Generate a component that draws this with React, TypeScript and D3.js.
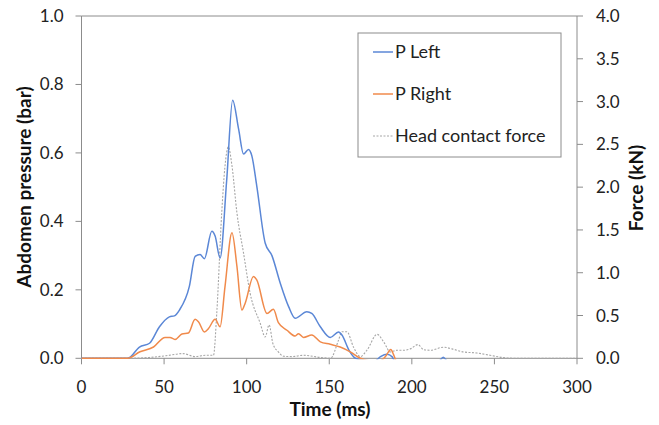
import React from "react";
import * as d3 from "d3";

const leftTime = [0, 28.1, 35.1, 41.2, 47.2, 53.2, 56.2, 59.3, 65.3, 68.8, 71.8, 74.4, 78.9, 80.9, 83.9, 87.9, 91.5, 95.1, 98.1, 101.1, 103.1, 106.1, 111.2, 115.3, 120.3, 125.4, 129.4, 136.4, 139.4, 144.6, 150.6, 155.6, 157.7, 161.9, 165.9, 177, 181, 185, 188, 190, 216, 219, 222, 300];
const leftValues = [0, 0, 0.033, 0.044, 0.092, 0.121, 0.124, 0.141, 0.21, 0.298, 0.303, 0.291, 0.371, 0.357, 0.293, 0.52, 0.754, 0.67, 0.597, 0.61, 0.592, 0.504, 0.337, 0.3, 0.22, 0.151, 0.117, 0.136, 0.131, 0.092, 0.061, 0.077, 0.068, 0.024, 0, -0.01, 0.005, 0.012, 0.005, -0.01, -0.01, 0.003, -0.01, -0.01];

const rightTime = [0, 28.1, 35.4, 43.6, 50.6, 53.6, 56.6, 60.8, 64.7, 68.8, 70.8, 74.4, 76.9, 80.9, 83.9, 86.9, 91.1, 94.1, 97.1, 99.1, 104.1, 106.1, 112.3, 116.2, 119.2, 124.4, 129.4, 131.4, 134.4, 139.4, 144.6, 150.6, 156.6, 162.7, 168.9, 180, 184, 187.3, 189, 191, 300];
const rightValues = [0, 0, 0.019, 0.033, 0.061, 0.061, 0.055, 0.071, 0.074, 0.114, 0.107, 0.077, 0.087, 0.114, 0.092, 0.21, 0.367, 0.269, 0.141, 0.161, 0.239, 0.229, 0.131, 0.143, 0.104, 0.082, 0.065, 0.072, 0.061, 0.068, 0.048, 0.041, 0.033, 0.019, 0, -0.01, 0.005, 0.026, 0.01, -0.01, -0.01];

const forceTime = [0, 28.1, 41.1, 51.2, 61.3, 68.8, 74.9, 79.9, 81.9, 84.9, 86.9, 88.9, 91.1, 94.1, 98.1, 102.1, 108.2, 111.2, 113.6, 115.9, 119.2, 122.3, 127.7, 134.4, 144.6, 150.8, 155.6, 157.7, 160.7, 164.7, 168.8, 172.8, 179, 183, 187, 191, 195.1, 199.1, 203.7, 207.2, 211.2, 219.2, 224.3, 231.3, 239.3, 247.4, 255.4, 262.5, 300];
const forceValues = [0, 0, 0.01, 0.03, 0.055, 0.02, 0.035, 0.035, 0.53, 1.7, 2.25, 2.47, 2.25, 1.7, 1.23, 0.76, 0.41, 0.25, 0.39, 0.17, 0.074, 0.024, 0.02, 0.035, 0.01, 0.0, 0.21, 0.31, 0.31, 0.13, 0.02, 0.094, 0.28, 0.19, 0.074, 0.094, 0.094, 0.11, 0.16, 0.1, 0.094, 0.13, 0.11, 0.074, 0.062, 0.035, 0.008, 0, 0];

const xTicks = [0, 50, 100, 150, 200, 250, 300];
const leftTicks = [0, 0.2, 0.4, 0.6, 0.8, 1.0];
const rightTicks = [0, 0.5, 1.0, 1.5, 2.0, 2.5, 3.0, 3.5, 4.0];
const legendLabels = ["P Left", "P Right", "Head contact force"];

const W = 659, H = 425;
const L = 81.5, R = 577, T = 16, B = 358.3;
const FONT = "Lato, 'Open Sans', sans-serif";
const AXIS = "#8c8c8c";
const BLUE = "#5b87d6";
const ORANGE = "#f08a4b";
const GRAY = "#a6a6a6";

export default function App() {
  const x = d3.scaleLinear().domain([0, 300]).range([L, R]);
  const yL = d3.scaleLinear().domain([0, 1]).range([B, T]);
  const yR = d3.scaleLinear().domain([0, 4]).range([B, T]);

  const mk = (ts: number[], vs: number[], y: d3.ScaleLinear<number, number>) =>
    d3.line<number>().x((_, i) => x(ts[i])).y((v) => y(v)).curve(d3.curveMonotoneX)(vs) || "";

  const pLeft = mk(leftTime, leftValues, yL);
  const pRight = mk(rightTime, rightValues, yL);
  const pForce = mk(forceTime, forceValues, yR);

  const lx = 358, ly = 33, lw = 203, lh = 124;
  const legendY = [52, 94, 136];

  return (
    <svg width={W} height={H} style={{ position: "absolute", left: 0, top: 0, background: "#fff" }} fontFamily={FONT}>
      <defs>
        <clipPath id="plot">
          <rect x={L} y={T} width={R - L} height={B - T + 1} />
        </clipPath>
      </defs>
      <line x1={L} y1={T} x2={R} y2={T} stroke={AXIS} strokeWidth={1} />
      <line x1={L} y1={T} x2={L} y2={B} stroke={AXIS} strokeWidth={1} />
      <line x1={R} y1={T} x2={R} y2={B} stroke={AXIS} strokeWidth={1} />
      <line x1={L} y1={B} x2={R} y2={B} stroke={AXIS} strokeWidth={1} />
      {xTicks.map((t) => (
        <g key={"x" + t}>
          <line x1={x(t)} x2={x(t)} y1={B} y2={B + 6} stroke={AXIS} />
          <text x={x(t)} y={B + 35} textAnchor="middle" fontSize={17} fill="#222">{t}</text>
        </g>
      ))}
      {leftTicks.map((t) => (
        <g key={"l" + t}>
          <line x1={L - 6} x2={L} y1={yL(t)} y2={yL(t)} stroke={AXIS} />
          <text x={L - 18} y={yL(t) + 6} textAnchor="end" fontSize={17} fill="#222">{t.toFixed(1)}</text>
        </g>
      ))}
      {rightTicks.map((t) => (
        <g key={"r" + t}>
          <line x1={R} x2={R + 6} y1={yR(t)} y2={yR(t)} stroke={AXIS} />
          <text x={R + 19} y={yR(t) + 6} textAnchor="start" fontSize={17} fill="#222">{t.toFixed(1)}</text>
        </g>
      ))}
      <g clipPath="url(#plot)" fill="none">
        <path d={pForce} stroke={GRAY} strokeWidth={1.1} strokeDasharray="2,1.5" />
        <path d={pLeft} stroke={BLUE} strokeWidth={1.5} />
        <path d={pRight} stroke={ORANGE} strokeWidth={1.5} />
      </g>
      <text x={330} y={416} textAnchor="middle" fontSize={19} fontWeight="bold" fill="#111">Time (ms)</text>
      <text transform="translate(31,187) rotate(-90)" textAnchor="middle" fontSize={19} fontWeight="bold" fill="#111">Abdomen pressure (bar)</text>
      <text transform="translate(643,188) rotate(-90)" textAnchor="middle" fontSize={19} fontWeight="bold" fill="#111">Force (kN)</text>
      <rect x={lx} y={ly} width={lw} height={lh} fill="#fff" stroke={AXIS} strokeWidth={1} />
      {legendLabels.map((lab, i) => (
        <g key={lab}>
          <line x1={373} x2={393} y1={legendY[i]} y2={legendY[i]}
            stroke={[BLUE, ORANGE, GRAY][i]} strokeWidth={i === 2 ? 1 : 1.5}
            strokeDasharray={i === 2 ? "2,1.5" : undefined} />
          <text x={395} y={legendY[i] + 6} fontSize={18} fill="#222">{lab}</text>
        </g>
      ))}
    </svg>
  );
}
